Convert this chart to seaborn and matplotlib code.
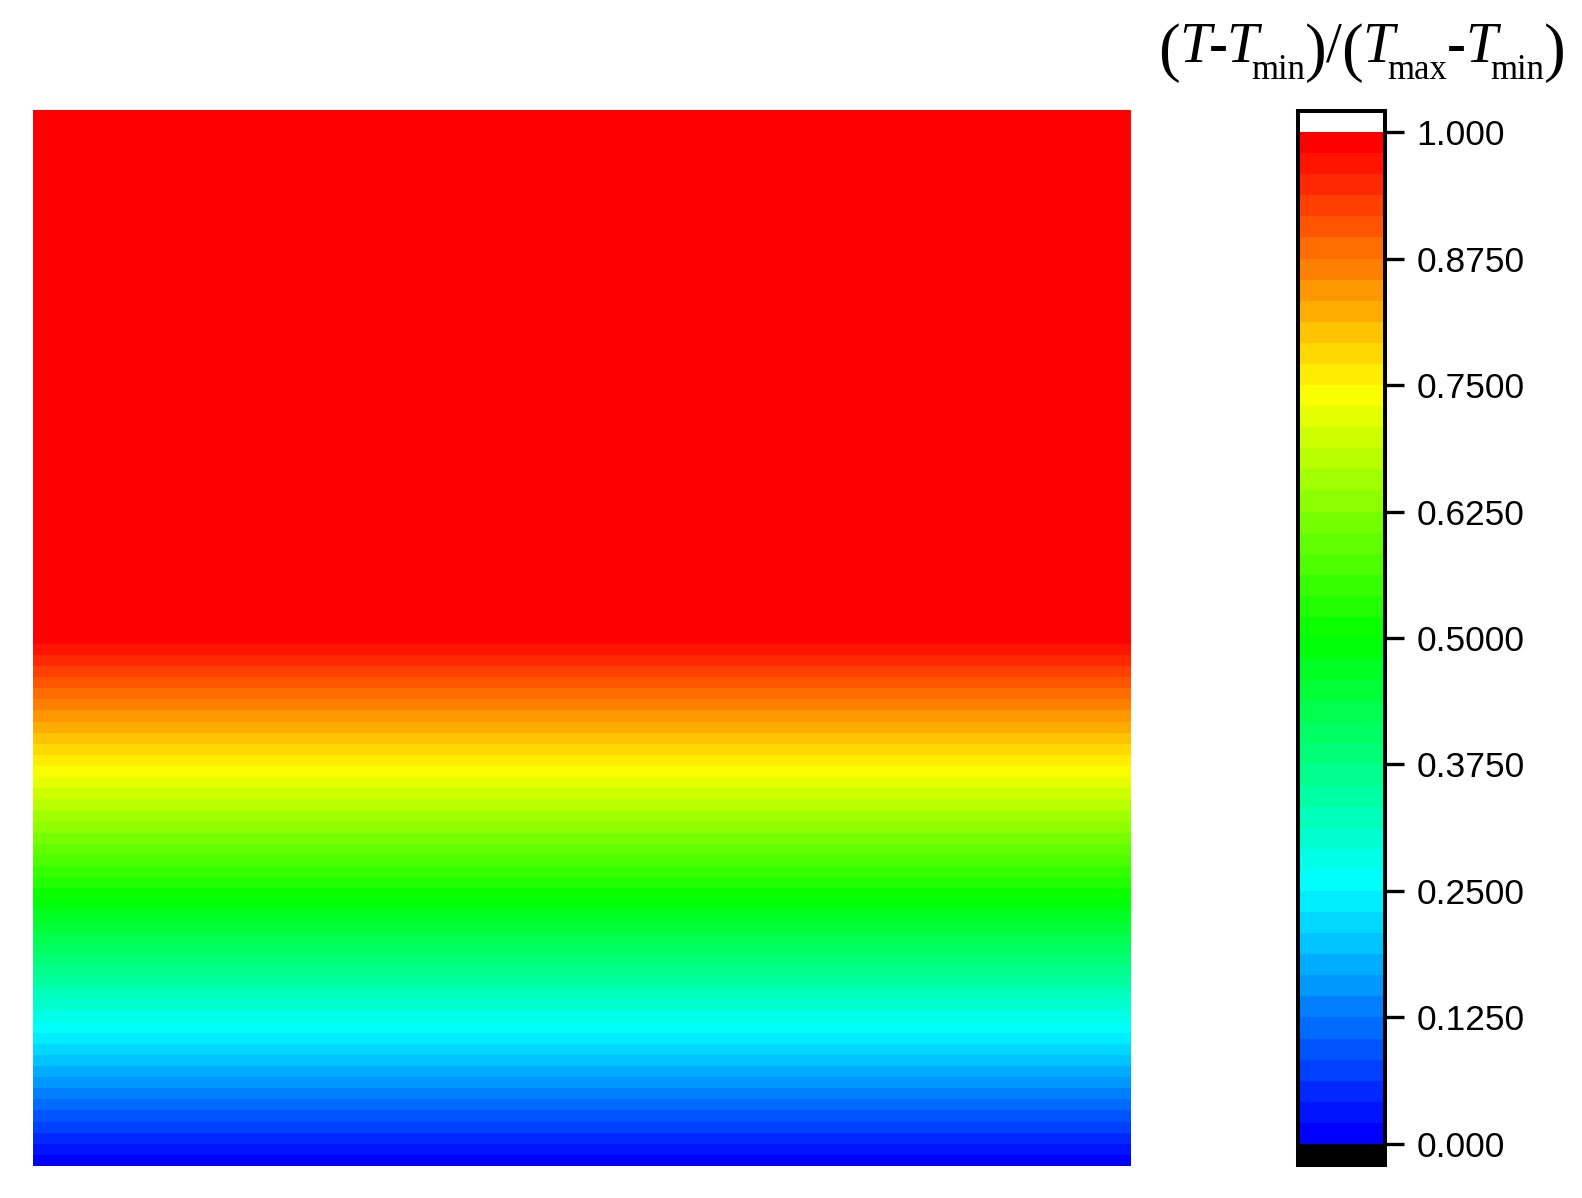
import numpy as np
import matplotlib
matplotlib.use("Agg")
from matplotlib import pyplot as plt
import seaborn as sns

# profil bezrozmerne teploty po vysce oblasti
x_nodes = [0.0, 1.0]
y_nodes = [0.0, 0.505, 1.0]
theta_profile = [0.0, 1.0, 1.0]

# hladiny a barvy
n_levels = 48
rainbow_anchors = ["#0000ff", "#00ffff", "#00ff00", "#ffff00", "#ff0000"]
under_color = "black"
over_color = "white"

cbar_ticks = [0.0, 0.125, 0.25, 0.375, 0.5, 0.625, 0.75, 0.875, 1.0]
cbar_labels = ["0.000", "0.1250", "0.2500", "0.3750", "0.5000",
               "0.6250", "0.7500", "0.8750", "1.000"]

# popisek skaly po kouskach: text, styl, vaha, velikost, posun dolu (px), mezera pred (px)
title_parts = [
    ("(", "normal", "normal", 47, 7, 0),
    ("T", "italic", "normal", 41, 0, 0),
    ("-", "normal", "bold", 41, 0, -3),
    ("T", "italic", "normal", 41, 0, -1),
    ("min", "normal", "normal", 25, 17, -7),
    (")", "normal", "normal", 47, 7, 0),
    ("/", "normal", "normal", 41, 0, -1),
    ("(", "normal", "normal", 47, 7, -1),
    ("T", "italic", "normal", 41, 0, 0),
    ("max", "normal", "normal", 25, 17, -7),
    ("-", "normal", "bold", 41, 0, 0),
    ("T", "italic", "normal", 41, 0, -1),
    ("min", "normal", "normal", 25, 17, -7),
    (")", "normal", "normal", 47, 7, 0),
]

sns.set_theme(style="white")
plt.rcParams["font.family"] = ["Liberation Sans", "DejaVu Sans"]

W, H = 1582, 1198
fig = plt.figure(figsize=(W / 100, H / 100), dpi=100)

# mrizka z profilu
X, Y = np.meshgrid(x_nodes, y_nodes)
Z = np.tile(np.array(theta_profile)[:, None], (1, len(x_nodes)))

levels = np.linspace(0.0, 1.0, n_levels + 1)
cmap = sns.blend_palette(rainbow_anchors, as_cmap=True)
band_colors = [cmap(v) for v in np.linspace(0.0, 1.0, n_levels)]
colors = [under_color] + band_colors + [over_color]

ax = fig.add_axes([33 / W, 1 - 1166 / H, (1131 - 33) / W, (1166 - 110) / H])
cs = ax.contourf(X, Y, Z, levels=levels, colors=colors, extend="both")
ax.set_xlim(x_nodes[0], x_nodes[-1])
ax.set_ylim(y_nodes[0], y_nodes[-1])
ax.set_axis_off()

# barevna skala
cax = fig.add_axes([1298 / W, 1 - 1165 / H, (1385 - 1298) / W, (1165 - 111) / H])
cb = fig.colorbar(cs, cax=cax, extend="both", extendrect=True,
                  extendfrac=1 / n_levels)
cb.outline.set_linewidth(2.9)
cb.outline.set_edgecolor("black")
cb.set_ticks(cbar_ticks)
cb.set_ticklabels(cbar_labels)
cax.tick_params(direction="out", length=14, width=2.4, pad=8.5,
                labelsize=25.5, colors="black", right=True)
cax.minorticks_off()

# popisek nad skalou skladany z kousku (dolni indexy nizko jako v Tecplotu)
renderer = fig.canvas.get_renderer()
x_px = 1158
base_px = 62
for txt, style, weight, size, dy, kern in title_parts:
    x_px += kern
    t = fig.text(x_px / W, 1 - (base_px + dy) / H, txt, fontsize=size,
                 style=style, weight=weight, family="Liberation Serif",
                 ha="left", va="baseline", color="black")
    x_px = t.get_window_extent(renderer).x1

fig.savefig("out.png", dpi=100)
